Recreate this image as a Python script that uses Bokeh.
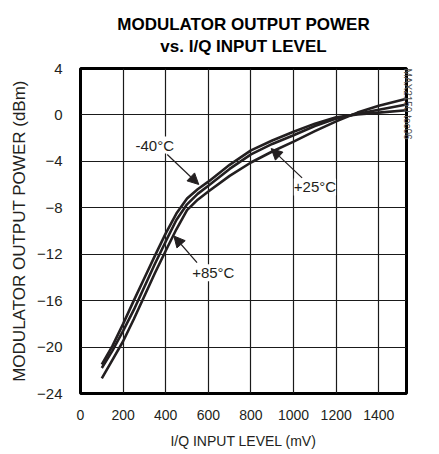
import math
from bokeh.plotting import figure
from bokeh.models import (Label, Arrow, NormalHead, Range1d, FixedTicker,
                          ColumnDataSource, Title, LinearAxis)
from bokeh.embed import file_html
from bokeh.resources import INLINE

# ---- data ----
x_mv = [100, 150, 200, 250, 300, 350, 400, 450, 500, 550, 600, 700, 800, 900,
        1000, 1100, 1200, 1300, 1400, 1530]
p_m40 = [-21.5, -19.9, -18.0, -16.0, -14.05, -12.1, -10.2, -8.5, -7.2, -6.4, -5.75,
         -4.3, -3.05, -2.2, -1.45, -0.75, -0.2, 0.05, 0.2, 0.4]
p_25 = [-21.8, -20.3, -18.6, -16.8, -14.8, -12.8, -10.9, -9.05, -7.7, -6.8, -6.1,
        -4.65, -3.4, -2.5, -1.75, -0.95, -0.3, 0.1, 0.45, 0.9]
p_85 = [-22.7, -21.1, -19.5, -17.6, -15.6, -13.6, -11.7, -9.85, -8.2, -7.3, -6.6,
        -5.25, -4.1, -3.15, -2.3, -1.4, -0.55, 0.2, 0.8, 1.4]
x_ticks = [0, 200, 400, 600, 800, 1000, 1200, 1400]
y_ticks = [-24, -20, -16, -12, -8, -4, 0, 4]
series_names = ["-40°C", "+25°C", "+85°C"]
title_lines = ["MODULATOR OUTPUT POWER", "vs. I/Q INPUT LEVEL"]

FONT = "Liberation Sans"
INK = "#231f20"

p = figure(width=439, height=454, output_backend="svg", toolbar_location=None,
           x_range=Range1d(0, 1530), y_range=Range1d(-24, 4),
           min_border_left=80, min_border_right=33, min_border_top=67,
           min_border_bottom=61, title=None)
p.background_fill_color = "white"
p.border_fill_color = "white"
p.outline_line_color = "black"
p.outline_line_width = 3

p.xaxis.ticker = FixedTicker(ticks=x_ticks)
p.yaxis.ticker = FixedTicker(ticks=y_ticks)
for ax in (p.xaxis, p.yaxis):
    ax.axis_line_color = None
    ax.major_tick_line_color = None
    ax.minor_tick_line_color = None
    ax.major_tick_out = 0
    ax.major_tick_in = 0
    ax.minor_tick_out = 0
    ax.major_label_text_font = FONT
    ax.major_label_text_color = INK
    ax.axis_label_text_font = FONT
    ax.axis_label_text_font_style = "normal"
    ax.axis_label_text_color = INK
p.xaxis.major_label_text_font_size = "14px"
p.yaxis.major_label_text_font_size = "15px"
p.xaxis.axis_label_text_font_size = "14px"
p.yaxis.axis_label_text_font_size = "17px"
p.xaxis.axis_label = "I/Q INPUT LEVEL (mV)"
p.yaxis.axis_label = "MODULATOR OUTPUT POWER (dBm)"
p.xaxis.major_label_standoff = 16
p.yaxis.major_label_standoff = 18
p.xaxis.axis_label_standoff = 10
p.yaxis.axis_label_standoff = 5

p.xgrid.ticker = FixedTicker(ticks=x_ticks)
p.ygrid.ticker = FixedTicker(ticks=y_ticks)
for g in (p.xgrid, p.ygrid):
    g.grid_line_color = "#1a1a1a"
    g.grid_line_width = 1.2

src = ColumnDataSource(dict(x=x_mv, a=p_m40, b=p_25, c=p_85))
for col in ("a", "b", "c"):
    p.line("x", col, source=src, line_color=INK, line_width=2.6)

# curve labels and arrows
lab_kw = dict(text_font=FONT, text_font_size="15px", text_color=INK,
              background_fill_color="white", text_baseline="middle")
p.add_layout(Label(x=258, y=-2.6, text=series_names[0], text_align="left", **lab_kw))
p.add_layout(Label(x=1001, y=-6.2, text=series_names[1], text_align="left", **lab_kw))
p.add_layout(Label(x=524, y=-13.6, text=series_names[2], text_align="left", **lab_kw))

def arr(x0, y0, x1, y1):
    p.add_layout(Arrow(end=NormalHead(size=11, fill_color=INK, line_color=INK),
                       x_start=x0, y_start=y0, x_end=x1, y_end=y1,
                       line_color=INK, line_width=1.2))

arr(407, -3.41, 555, -5.99)
arr(1040, -5.42, 895, -2.9)
arr(547, -12.72, 438, -10.43)

# title: one two-line title with centred lines (fallback: two stacked titles)
multi = Title(text="\n".join(title_lines), align="center", text_font=FONT,
              text_font_style="bold", text_font_size="17px",
              text_line_height=1.2, text_color="black", standoff=24)
try:
    multi.text_align = "center"
    p.add_layout(multi, "above")
except Exception:
    p.add_layout(Title(text=title_lines[1], align="center", text_font=FONT,
                       text_font_style="bold", text_font_size="17px",
                       text_color="black", standoff=26), "above")
    p.add_layout(Title(text=title_lines[0], align="center", text_font=FONT,
                       text_font_style="bold", text_font_size="17px",
                       text_color="black", standoff=0), "above")

# figure code at right of the frame: label of a tick-less right axis
rax = LinearAxis(ticker=FixedTicker(ticks=[]), axis_label="MAX2150 toc06")
rax.axis_line_color = None
rax.major_tick_line_color = None
rax.minor_tick_line_color = None
rax.major_tick_out = 0
rax.major_tick_in = 0
rax.minor_tick_out = 0
rax.major_label_standoff = 0
rax.axis_label_standoff = 1
rax.axis_label_text_font = FONT
rax.axis_label_text_font_style = "normal"
rax.axis_label_text_font_size = "10px"
rax.axis_label_text_color = "#555555"
try:
    rax.axis_label_orientation = -math.pi / 2
except Exception:
    pass
try:
    rax.axis_label_align = "end"
except Exception:
    pass
p.add_layout(rax, "right")

open("out.html", "w").write(file_html(p, INLINE))
